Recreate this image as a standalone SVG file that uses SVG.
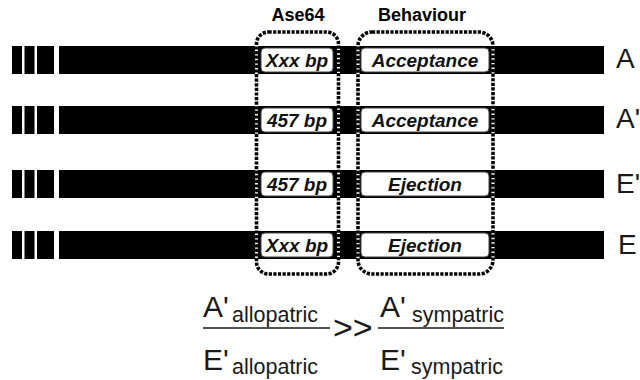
<svg xmlns="http://www.w3.org/2000/svg" width="640" height="380" viewBox="0 0 640 380">
  <style>
    text { font-family: "Liberation Sans", Arial, Helvetica, sans-serif; fill: #000; }
    .bar { fill: #000; }
    .tag { fill: #fff; stroke: #444; stroke-width: 1; }
    .tagtxt { font-size: 19px; font-weight: bold; font-style: italic; text-anchor: middle; fill: #111; }
    .head { font-size: 18px; font-weight: bold; text-anchor: middle; }
    .lab { font-size: 28px; fill: #1a1a1a; }
    .under { fill: none; stroke: #fff; stroke-width: 3; }
    .dots { fill: none; stroke: #000; stroke-width: 3.6; stroke-dasharray: 3.2 1.4; }
    .big { font-size: 30px; fill: #1a1a1a; }
    .sub { font-size: 21.5px; fill: #1a1a1a; }
    .fl { stroke: #1a1a1a; stroke-width: 1.6; }
  </style>
  <defs>
    <g id="stub">
      <rect class="bar" x="12" y="0" width="10" height="28"/>
      <rect class="bar" x="24.5" y="0" width="10" height="28"/>
      <rect class="bar" x="37" y="0" width="17" height="28"/>
    </g>
  </defs>

  <g id="row-A">
    <use href="#stub" x="0" y="46"/>
    <rect class="bar" x="59" y="46" width="545" height="28"/>
    <rect class="tag" x="261" y="48" width="72" height="24" rx="4"/>
    <text class="tagtxt" x="297" y="66.5">Xxx bp</text>
    <rect class="tag" x="361" y="48" width="128" height="24" rx="4"/>
    <text class="tagtxt" x="425" y="66.5">Acceptance</text>
    <text class="lab" x="616" y="68">A</text>
  </g>

  <g id="row-A-prime">
    <use href="#stub" x="0" y="106"/>
    <rect class="bar" x="59" y="106" width="545" height="28"/>
    <rect class="tag" x="261" y="108" width="72" height="24" rx="4"/>
    <text class="tagtxt" x="297" y="126.5">457 bp</text>
    <rect class="tag" x="361" y="108" width="128" height="24" rx="4"/>
    <text class="tagtxt" x="425" y="126.5">Acceptance</text>
    <text class="lab" x="616" y="128">A'</text>
  </g>

  <g id="row-E-prime">
    <use href="#stub" x="0" y="170"/>
    <rect class="bar" x="59" y="170" width="545" height="28"/>
    <rect class="tag" x="261" y="172" width="72" height="24" rx="4"/>
    <text class="tagtxt" x="297" y="190.5">457 bp</text>
    <rect class="tag" x="361" y="172" width="128" height="24" rx="4"/>
    <text class="tagtxt" x="425" y="190.5">Ejection</text>
    <text class="lab" x="616" y="193">E'</text>
  </g>

  <g id="row-E">
    <use href="#stub" x="0" y="231"/>
    <rect class="bar" x="59" y="231" width="545" height="28"/>
    <rect class="tag" x="261" y="233" width="72" height="24" rx="4"/>
    <text class="tagtxt" x="297" y="251.5">Xxx bp</text>
    <rect class="tag" x="361" y="233" width="128" height="24" rx="4"/>
    <text class="tagtxt" x="425" y="251.5">Ejection</text>
    <text class="lab" x="618" y="254">E</text>
  </g>

  <g id="group-ase64">
    <rect class="under" x="256.5" y="32" width="82" height="242" rx="12"/>
    <rect class="dots" x="256.5" y="32" width="82" height="242" rx="12"/>
    <text class="head" x="298" y="21">Ase64</text>
  </g>

  <g id="group-behaviour">
    <rect class="under" x="358" y="32" width="135" height="242" rx="14"/>
    <rect class="dots" x="358" y="32" width="135" height="242" rx="14"/>
    <text class="head" x="422" y="21">Behaviour</text>
  </g>

  <g id="equation">
    <text class="big" x="203" y="317">A'</text>
    <text class="sub" x="232" y="322">allopatric</text>
    <line class="fl" x1="203" y1="328" x2="330" y2="328"/>
    <text class="big" x="203" y="370">E'</text>
    <text class="sub" x="232" y="374">allopatric</text>
    <text class="big" x="333" y="339" style="font-size:34px">&gt;&gt;</text>
    <text class="big" x="380" y="317">A'</text>
    <text class="sub" x="412" y="322">sympatric</text>
    <line class="fl" x1="378" y1="328" x2="504" y2="328"/>
    <text class="big" x="380" y="370">E'</text>
    <text class="sub" x="411" y="374">sympatric</text>
  </g>
</svg>
